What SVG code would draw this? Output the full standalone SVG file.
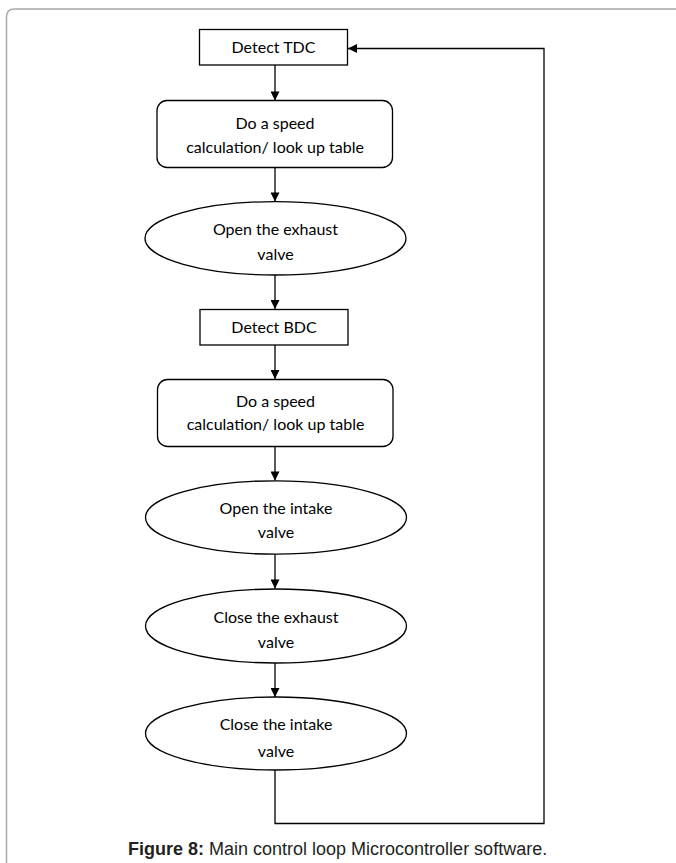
<svg xmlns="http://www.w3.org/2000/svg" width="676" height="863" viewBox="0 0 676 863">
<defs>
<style>
.shape{fill:#fff;stroke:#000;stroke-width:1.3}
.lbl{font-family:Lato,"Open Sans","Liberation Sans",sans-serif;font-size:16px;fill:#000;text-anchor:middle}
.conn{fill:none;stroke:#000;stroke-width:1.3}
.cap{font-family:"Liberation Sans",Arial,sans-serif;font-size:18px;fill:#231f20}
</style>
<marker id="arr" viewBox="0 0 10 10" refX="10" refY="5" markerWidth="10" markerHeight="9" markerUnits="userSpaceOnUse" orient="auto">
<path d="M0,0 L10,5 L0,10 z" fill="#000"/>
</marker>
</defs>
<rect width="676" height="863" fill="#fff"/>
<path d="M6.5,863 V17 Q6.5,9 14.5,9 H676" fill="none" stroke="#a8a8a8" stroke-width="1.5"/>

<g id="connectors">
<line class="conn" x1="275" y1="65" x2="275" y2="100.5" marker-end="url(#arr)"/>
<line class="conn" x1="275" y1="167.5" x2="275" y2="201.5" marker-end="url(#arr)"/>
<line class="conn" x1="275" y1="275" x2="275" y2="309" marker-end="url(#arr)"/>
<line class="conn" x1="275" y1="345" x2="275" y2="379" marker-end="url(#arr)"/>
<line class="conn" x1="275" y1="446.5" x2="275" y2="480.5" marker-end="url(#arr)"/>
<line class="conn" x1="275" y1="554" x2="275" y2="588.5" marker-end="url(#arr)"/>
<line class="conn" x1="275" y1="663" x2="275" y2="697" marker-end="url(#arr)"/>
<polyline class="conn" points="275,770 275,823.5 544,823.5 544,48.5 348,48.5" marker-end="url(#arr)"/>
</g>

<g id="detect-tdc">
<rect class="shape" x="199.5" y="29.5" width="148" height="35.5"/>
<text class="lbl" x="273.5" y="53">Detect TDC</text>
</g>
<g id="speed-calc-1">
<rect class="shape" x="157" y="100.5" width="235.5" height="67" rx="10" ry="10"/>
<text class="lbl" x="275" y="128.5">Do a speed</text>
<text class="lbl" x="275" y="152.5">calculation/ look up table</text>
</g>
<g id="open-exhaust">
<ellipse class="shape" cx="275.5" cy="238.3" rx="130.5" ry="36.7"/>
<text class="lbl" x="275.5" y="235">Open the exhaust</text>
<text class="lbl" x="275.5" y="260">valve</text>
</g>
<g id="detect-bdc">
<rect class="shape" x="200" y="309.5" width="148" height="35.5"/>
<text class="lbl" x="274" y="333">Detect BDC</text>
</g>
<g id="speed-calc-2">
<rect class="shape" x="157.5" y="379.5" width="235.5" height="67" rx="10" ry="10"/>
<text class="lbl" x="275.5" y="406.5">Do a speed</text>
<text class="lbl" x="275.5" y="430">calculation/ look up table</text>
</g>
<g id="open-intake">
<ellipse class="shape" cx="276" cy="517.5" rx="130.5" ry="36.7"/>
<text class="lbl" x="276" y="513.5">Open the intake</text>
<text class="lbl" x="276" y="537.5">valve</text>
</g>
<g id="close-exhaust">
<ellipse class="shape" cx="276" cy="626" rx="130.5" ry="37"/>
<text class="lbl" x="276" y="622.5">Close the exhaust</text>
<text class="lbl" x="276" y="647.5">valve</text>
</g>
<g id="close-intake">
<ellipse class="shape" cx="276" cy="733.5" rx="130.5" ry="36.5"/>
<text class="lbl" x="276" y="730">Close the intake</text>
<text class="lbl" x="276" y="756.5">valve</text>
</g>

<text class="cap" x="128" y="855"><tspan font-weight="bold">Figure 8:</tspan> Main control loop Microcontroller software.</text>
</svg>
